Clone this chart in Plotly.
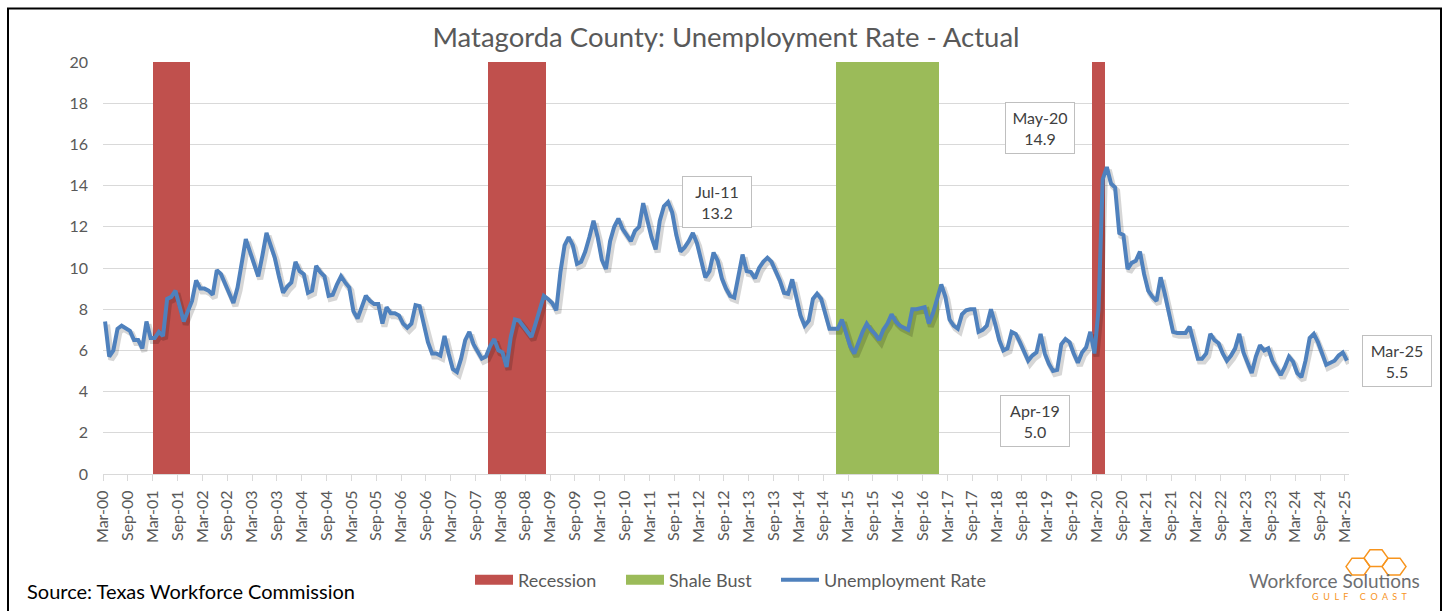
import plotly.graph_objects as go

# Monthly unemployment rate, Mar-2000 .. Mar-2025 (301 months)
unemployment_rate = [
    7.4, 5.7, 6.0, 7.05, 7.2, 7.1, 6.95, 6.5, 6.5, 6.1, 7.4, 6.6,          # Mar-00 .. Feb-01
    6.6, 6.9, 6.7, 8.5, 8.6, 8.9, 8.1, 7.4, 7.9, 8.4, 9.4, 9.0,            # Mar-01 .. Feb-02
    9.0, 8.9, 8.7, 9.9, 9.7, 9.2, 8.7, 8.3, 9.05, 10.2, 11.4, 10.8,        # Mar-02 .. Feb-03
    10.2, 9.6, 10.6, 11.7, 11.1, 10.5, 9.6, 8.8, 9.1, 9.3, 10.3, 9.85,     # Mar-03 .. Feb-04
    9.7, 8.8, 8.9, 10.1, 9.8, 9.6, 8.65, 8.7, 9.2, 9.6, 9.3, 9.05,         # Mar-04 .. Feb-05
    7.9, 7.55, 8.1, 8.65, 8.4, 8.25, 8.25, 7.3, 8.1, 7.8, 7.8, 7.7,        # Mar-05 .. Feb-06
    7.3, 7.1, 7.3, 8.2, 8.15, 7.3, 6.4, 5.85, 5.85, 5.75, 6.7, 5.85,       # Mar-06 .. Feb-07
    5.1, 4.95, 5.6, 6.5, 6.9, 6.3, 5.9, 5.6, 5.7, 6.2, 6.55, 6.0,          # Mar-07 .. Feb-08
    5.9, 5.2, 6.65, 7.5, 7.45, 7.2, 6.95, 6.65, 7.3, 7.9, 8.65, 8.5,       # Mar-08 .. Feb-09
    8.3, 7.95, 9.8, 11.1, 11.5, 11.1, 10.2, 10.3, 10.8, 11.5, 12.3, 11.5,  # Mar-09 .. Feb-10
    10.4, 9.95, 11.3, 12.0, 12.4, 11.9, 11.6, 11.3, 11.8, 12.0, 13.15, 12.3,  # Mar-10 .. Feb-11
    11.5, 10.9, 12.3, 13.0, 13.2, 12.7, 11.6, 10.8, 11.0, 11.3, 11.7, 11.2,   # Mar-11 .. Feb-12
    10.3, 9.55, 9.85, 10.75, 10.35, 9.5, 9.0, 8.65, 8.57, 9.7, 10.65, 9.85,   # Mar-12 .. Feb-13
    9.8, 9.5, 10.0, 10.3, 10.5, 10.3, 9.9, 9.4, 8.8, 8.75, 9.45, 8.55,        # Mar-13 .. Feb-14
    7.7, 7.2, 7.45, 8.5, 8.75, 8.5, 7.8, 7.05, 7.05, 7.05, 7.5, 6.9,          # Mar-14 .. Feb-15
    6.2, 5.85, 6.4, 6.9, 7.3, 7.0, 6.8, 6.5, 7.0, 7.3, 7.75, 7.4,             # Mar-15 .. Feb-16
    7.2, 7.1, 7.0, 8.0, 8.0, 8.05, 8.1, 7.3, 7.8, 8.5, 9.2, 8.6,              # Mar-16 .. Feb-17
    7.5, 7.2, 7.05, 7.75, 7.95, 8.0, 8.0, 6.9, 7.0, 7.2, 8.0, 7.3,            # Mar-17 .. Feb-18
    6.5, 6.0, 6.1, 6.9, 6.8, 6.4, 5.9, 5.5, 5.75, 5.9, 6.8, 5.85,             # Mar-18 .. Feb-19
    5.35, 5.0, 5.05, 6.3, 6.55, 6.4, 5.85, 5.4, 5.9, 6.15, 6.9, 5.85,         # Mar-19 .. Feb-20
    8.0, 14.3, 14.9, 14.1, 13.9, 11.7, 11.6, 9.95, 10.25, 10.35, 10.8, 9.7,   # Mar-20 .. Feb-21
    8.9, 8.6, 8.4, 9.55, 8.75, 7.9, 6.9, 6.85, 6.85, 6.85, 7.15, 6.4,         # Mar-21 .. Feb-22
    5.6, 5.6, 5.85, 6.8, 6.5, 6.35, 5.85, 5.5, 5.75, 6.1, 6.8, 5.9,           # Mar-22 .. Feb-23
    5.35, 4.9, 5.7, 6.25, 6.0, 6.1, 5.5, 5.1, 4.8, 5.2, 5.7, 5.45,            # Mar-23 .. Feb-24
    4.9, 4.7, 5.5, 6.6, 6.8, 6.4, 5.85, 5.3, 5.4, 5.5, 5.75, 5.9,             # Mar-24 .. Feb-25
    5.5,                                                                      # Mar-25
]

month_names = ["Jan", "Feb", "Mar", "Apr", "May", "Jun",
               "Jul", "Aug", "Sep", "Oct", "Nov", "Dec"]
first_year, first_month = 2000, 3
month_labels = [
    f"{month_names[(first_month - 1 + k) % 12]}-{(first_year + (first_month - 1 + k) // 12) % 100:02d}"
    for k in range(len(unemployment_rate))
]

# Shaded periods (inclusive, by month label)
recession_periods = [("Mar-01", "Nov-01"), ("Dec-07", "Jan-09"), ("Feb-20", "Apr-20")]
shale_bust_periods = [("Dec-14", "Dec-16")]

# Months flagged in the labelled call-outs
callout_months = ["Jul-11", "May-20", "Apr-19", "Mar-25"]

# Axis tick labels, every six months
tick_labels = month_labels[::6]

Y_MAX = 20


def period_months(periods):
    months = []
    for start, end in periods:
        a, b = month_labels.index(start), month_labels.index(end)
        months.extend(range(a, b + 1))
    return months


recession_x = period_months(recession_periods)
shale_x = period_months(shale_bust_periods)
x_idx = list(range(len(unemployment_rate)))

X_RANGE = [-0.5, len(unemployment_rate) - 0.5]

BLUE = "#4F81BD"
RED = "#C0504D"
GREEN = "#9BBB59"
TEXT = "#595959"
GRID = "#D9D9D9"
FONT = "Lato"

fig = go.Figure()

fig.add_trace(go.Bar(
    x=recession_x, y=[Y_MAX] * len(recession_x), width=1,
    marker=dict(color=RED, line=dict(width=0)),
    name="Recession", legendgroup="rec", showlegend=False, hoverinfo="skip",
))
fig.add_trace(go.Bar(
    x=shale_x, y=[Y_MAX] * len(shale_x), width=1,
    marker=dict(color=GREEN, line=dict(width=0)),
    name="Shale Bust", legendgroup="shale", showlegend=False, hoverinfo="skip",
))

# wide rectangular legend keys for the shaded periods
for nm, col, grp, lg in [("Recession", RED, "rec", "legend"),
                         ("Shale Bust", GREEN, "shale", "legend2")]:
    fig.add_trace(go.Scatter(
        x=[None], y=[None], mode="lines", name=nm, legendgroup=grp, legend=lg,
        line=dict(color=col, width=14),
    ))

# soft drop shadow under the rate line (offset axes, same data)
fig.add_trace(go.Scatter(
    x=x_idx, y=unemployment_rate, mode="lines",
    line=dict(color="rgba(0,0,0,0.16)", width=6),
    xaxis="x2", yaxis="y2", showlegend=False, hoverinfo="skip",
))
fig.add_trace(go.Scatter(
    x=x_idx, y=unemployment_rate, mode="lines",
    line=dict(color=BLUE, width=4), legendgroup="rate", legend="legend3",
    xaxis="x3", yaxis="y3", name="Unemployment Rate",
))

# pixel geometry of the plotting area
L, R, T, B = 103, 99, 62, 133
W, H = 1448, 611
plot_w, plot_h = W - L - R, H - T - B
px_per_x = plot_w / (X_RANGE[1] - X_RANGE[0])
px_per_y = plot_h / Y_MAX
dx, dy = 2 / px_per_x, 3 / px_per_y


def legend_at(key_left_px):
    return dict(
        orientation="h", x=(key_left_px - 5 - L) / plot_w, xanchor="left",
        y=(H - B - 585) / plot_h, yanchor="middle",
        font=dict(size=18, color=TEXT, family=FONT),
        bgcolor="rgba(0,0,0,0)", itemwidth=38,
    )


fig.update_layout(
    width=W, height=H,
    margin=dict(l=L, r=R, t=T, b=B),
    paper_bgcolor="white", plot_bgcolor="white",
    barmode="overlay", bargap=0,
    font=dict(family=FONT, color=TEXT),
    title=dict(
        text="Matagorda County: Unemployment Rate - Actual",
        x=0.5, xref="paper", xanchor="center",
        y=1 - 37 / H, yref="container", yanchor="middle",
        font=dict(size=27.5, color=TEXT, family=FONT),
    ),
    xaxis=dict(
        range=X_RANGE,
        tickmode="array",
        tickvals=[k * 6 - 0.5 for k in range(len(tick_labels))],
        ticktext=tick_labels,
        tickangle=-90,
        ticks="outside", ticklen=6, tickcolor=GRID,
        ticklabelstandoff=3,
        showline=True, linecolor=GRID, linewidth=1,
        showgrid=False, zeroline=False,
        tickfont=dict(size=16, color=TEXT),
    ),
    yaxis=dict(
        range=[0, Y_MAX], dtick=2,
        showgrid=True, gridcolor=GRID, gridwidth=1,
        zeroline=False, showline=False, ticks="",
        ticklabelstandoff=14,
        tickfont=dict(size=16, color=TEXT),
    ),
    xaxis2=dict(range=[X_RANGE[0] - dx, X_RANGE[1] - dx], overlaying="x", visible=False),
    yaxis2=dict(range=[dy, Y_MAX + dy], overlaying="y", visible=False),
    xaxis3=dict(range=X_RANGE, overlaying="x", visible=False),
    yaxis3=dict(range=[0, Y_MAX], overlaying="y", visible=False),
    legend=legend_at(475),
    legend2=legend_at(626),
    legend3=legend_at(781),
    showlegend=True,
)


def px_to_paper(px, py):
    return (px - L) / plot_w, (H - B - py) / plot_h


# call-out boxes stating values
callout_pos = {"Jul-11": (716.5, 203), "May-20": (1039.5, 129),
               "Apr-19": (1035, 424), "Mar-25": (1397, 364)}
for lbl in callout_months:
    i = month_labels.index(lbl)
    cx, cy = px_to_paper(*callout_pos[lbl])
    fig.add_annotation(
        x=cx, y=cy, xref="paper", yref="paper", xanchor="center", yanchor="middle",
        text=f"{lbl}<br>{unemployment_rate[i]:.1f}",
        showarrow=False, align="center",
        width=64, height=46,
        bgcolor="white", bordercolor="#BFBFBF", borderwidth=1, borderpad=2,
        font=dict(size=16, color="#404040", family=FONT),
    )

# source note
sx, sy = px_to_paper(25, 596)
fig.add_annotation(
    x=sx, y=sy, xref="paper", yref="paper", xanchor="left", yanchor="middle",
    text="Source: Texas Workforce Commission", showarrow=False,
    font=dict(size=20, color="black", family=FONT),
)

# logo wordmark
lx, ly = px_to_paper(1334, 586)
fig.add_annotation(
    x=lx, y=ly, xref="paper", yref="paper", xanchor="center", yanchor="middle",
    text="Workforce Solutions", showarrow=False,
    font=dict(size=19, color="#6D6E71", family=FONT),
)
gx, gy = px_to_paper(1360, 602)
fig.add_annotation(
    x=gx, y=gy, xref="paper", yref="paper", xanchor="center", yanchor="middle",
    text="G  U  L  F     C  O  A  S  T", showarrow=False,
    font=dict(size=9, color="#F7941D", family=FONT),
)


def hex_path(cx, cy, rx, ry):
    pts = [(cx - rx, cy), (cx - rx / 2, cy - ry), (cx + rx / 2, cy - ry),
           (cx + rx, cy), (cx + rx / 2, cy + ry), (cx - rx / 2, cy + ry)]
    conv = [px_to_paper(x, y) for x, y in pts]
    return "M " + " L ".join(f"{x},{y}" for x, y in conv) + " Z"


for (hx, hy) in [(1376, 563), (1358, 571.5), (1394, 571.5)]:
    fig.add_shape(type="path", xref="paper", yref="paper",
                  path=hex_path(hx, hy, 12, 8.5),
                  line=dict(color="#F7941D", width=1.5))

# chart frame
x0, y0 = px_to_paper(8, 8)
x1, y1 = px_to_paper(1441, 640)
fig.add_shape(type="rect", xref="paper", yref="paper", x0=x0, y0=y1, x1=x1, y1=y0,
              line=dict(color="black", width=2), layer="below")

fig.write_html("out.html")
